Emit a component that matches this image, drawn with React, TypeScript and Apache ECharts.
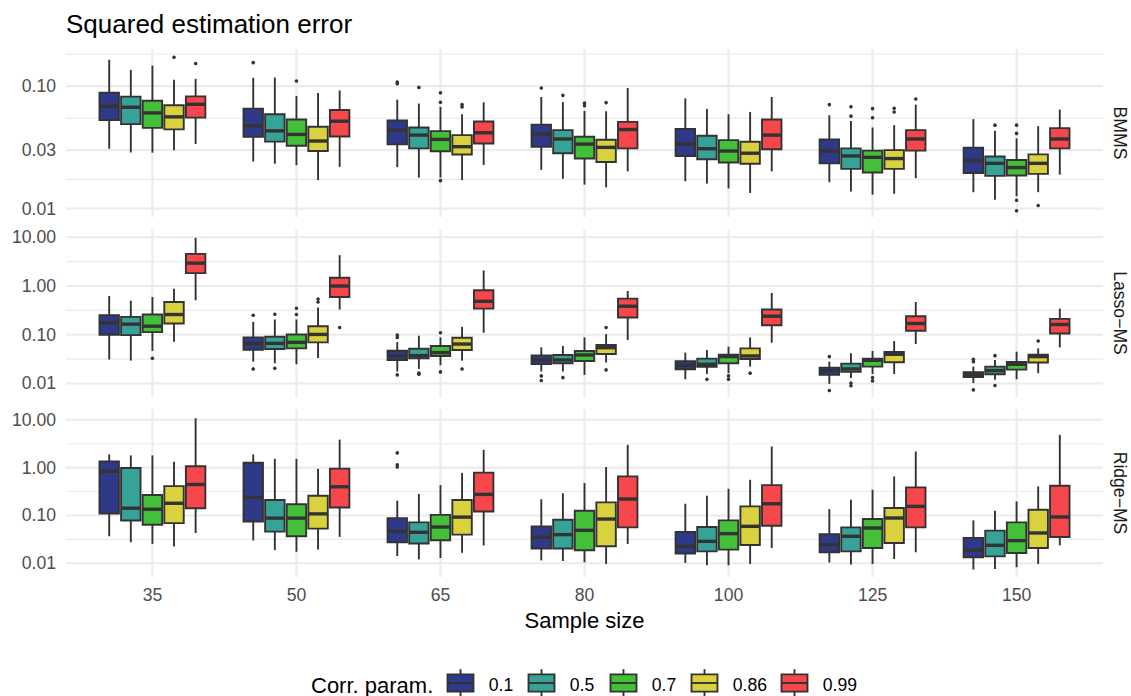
import React, { useEffect, useRef } from "react";
import * as echarts from "echarts";

const FONT = '"Liberation Sans", Arial, Helvetica, sans-serif';

const sampleSizes = ["35", "50", "65", "80", "100", "125", "150"];
const corrParams = ["0.1", "0.5", "0.7", "0.86", "0.99"];
const corrColors = ["#2E3A87", "#37A396", "#44BF38", "#D9D23E", "#F5474C"];
const facetLabels = ["BMMS", "Lasso\u2212MS", "Ridge\u2212MS"];

// Each row: [lower whisker, Q1, median, Q3, upper whisker] for one sample size
const bmmsCorr01 = [
  [0.0308, 0.0527, 0.0684, 0.0883, 0.164],
  [0.0242, 0.0386, 0.0474, 0.0655, 0.117],
  [0.0218, 0.0334, 0.0437, 0.0523, 0.0775],
  [0.0207, 0.032, 0.0405, 0.0485, 0.0815],
  [0.0167, 0.0269, 0.0336, 0.0446, 0.0794],
  [0.0164, 0.0234, 0.0295, 0.0367, 0.0578],
  [0.0136, 0.0195, 0.0247, 0.0314, 0.0537],
];
const bmmsCorr05 = [
  [0.0287, 0.0489, 0.0672, 0.082, 0.1355],
  [0.0232, 0.0352, 0.0431, 0.0589, 0.1175],
  [0.0179, 0.031, 0.0398, 0.0459, 0.072],
  [0.0175, 0.0283, 0.037, 0.0437, 0.0741],
  [0.016, 0.0253, 0.0308, 0.0393, 0.0651],
  [0.0138, 0.0211, 0.0269, 0.031, 0.0518],
  [0.0118, 0.0185, 0.0234, 0.0266, 0.0431],
];
const bmmsCorr07 = [
  [0.0286, 0.0456, 0.0604, 0.076, 0.147],
  [0.0226, 0.0326, 0.0403, 0.0533, 0.083],
  [0.0179, 0.0294, 0.0367, 0.0429, 0.0676],
  [0.0157, 0.0256, 0.0336, 0.0386, 0.0626],
  [0.0146, 0.0238, 0.0295, 0.0362, 0.0589],
  [0.013, 0.0197, 0.0262, 0.0297, 0.0459],
  [0.0126, 0.0186, 0.0216, 0.0249, 0.0374],
];
const bmmsCorr086 = [
  [0.03, 0.0443, 0.0561, 0.0697, 0.1125],
  [0.0171, 0.0295, 0.0356, 0.0466, 0.0878],
  [0.0171, 0.0276, 0.032, 0.0398, 0.0589],
  [0.0149, 0.024, 0.0316, 0.0365, 0.0623],
  [0.0134, 0.0232, 0.0283, 0.0351, 0.0615],
  [0.0132, 0.0211, 0.0256, 0.03, 0.048],
  [0.0136, 0.0192, 0.0234, 0.0277, 0.0471],
];
const bmmsCorr099 = [
  [0.0337, 0.0553, 0.071, 0.0824, 0.1146],
  [0.0219, 0.0388, 0.0517, 0.0638, 0.0922],
  [0.0227, 0.034, 0.0416, 0.0514, 0.0738],
  [0.0201, 0.031, 0.0442, 0.051, 0.0964],
  [0.0201, 0.0305, 0.0398, 0.0533, 0.0815],
  [0.0177, 0.0297, 0.037, 0.0437, 0.0706],
  [0.0189, 0.031, 0.037, 0.0454, 0.0643],
];
// [sample size index, corr. param index, value]
const bmmsOutliers = [
  [0, 3, 0.172], [0, 4, 0.153],
  [1, 0, 0.1556], [1, 2, 0.11],
  [2, 0, 0.108], [2, 0, 0.1045], [2, 1, 0.0976], [2, 2, 0.0883], [2, 2, 0.0738], [2, 2, 0.0169], [2, 3, 0.0706], [2, 3, 0.0676],
  [3, 0, 0.0964], [3, 1, 0.084], [3, 2, 0.0728], [3, 2, 0.0693], [3, 3, 0.0733],
  [5, 0, 0.0706], [5, 1, 0.0679], [5, 1, 0.0568], [5, 2, 0.0655], [5, 2, 0.0551], [5, 3, 0.066], [5, 3, 0.0615], [5, 4, 0.0785],
  [6, 1, 0.048], [6, 2, 0.048], [6, 2, 0.0411], [6, 2, 0.0117], [6, 2, 0.0096], [6, 3, 0.0106],
];

const lassoCorr01 = [
  [0.031, 0.1, 0.176, 0.252, 0.625],
  [0.0281, 0.0494, 0.0666, 0.0883, 0.184],
  [0.0176, 0.0304, 0.0367, 0.047, 0.0708],
  [0.0176, 0.0252, 0.0304, 0.0378, 0.055],
  [0.0122, 0.0196, 0.0235, 0.0286, 0.043],
  [0.0098, 0.015, 0.0182, 0.0212, 0.028],
  [0.0102, 0.0135, 0.015, 0.017, 0.0222],
];
const lassoCorr05 = [
  [0.0295, 0.0985, 0.165, 0.233, 0.502],
  [0.026, 0.0509, 0.0666, 0.091, 0.206],
  [0.0199, 0.0329, 0.0373, 0.0518, 0.0955],
  [0.0176, 0.026, 0.0304, 0.0385, 0.0588],
  [0.0157, 0.0219, 0.0248, 0.0324, 0.0487],
  [0.0129, 0.0173, 0.0199, 0.0256, 0.0416],
  [0.0119, 0.0155, 0.0184, 0.0222, 0.0304],
];
const lassoCorr07 = [
  [0.0465, 0.113, 0.15, 0.26, 0.597],
  [0.0248, 0.0526, 0.0698, 0.1016, 0.206],
  [0.0237, 0.0367, 0.043, 0.0588, 0.0883],
  [0.015, 0.029, 0.0385, 0.0465, 0.0883],
  [0.0163, 0.026, 0.0356, 0.039, 0.0569],
  [0.0157, 0.0222, 0.0299, 0.0324, 0.0465],
  [0.0122, 0.0193, 0.0248, 0.0277, 0.045],
];
const lassoCorr086 = [
  [0.072, 0.17, 0.26, 0.471, 0.883],
  [0.0334, 0.0698, 0.1016, 0.15, 0.361],
  [0.0295, 0.0487, 0.0645, 0.0869, 0.1455],
  [0.0269, 0.0403, 0.0543, 0.0615, 0.103],
  [0.0222, 0.0318, 0.0367, 0.0526, 0.0883],
  [0.0157, 0.0272, 0.0397, 0.0443, 0.0743],
  [0.0163, 0.0269, 0.0356, 0.039, 0.0526],
];
const lassoCorr099 = [
  [0.509, 1.84, 2.95, 4.57, 9.7],
  [0.329, 0.597, 1.0, 1.48, 4.3],
  [0.11, 0.344, 0.486, 0.817, 2.09],
  [0.0778, 0.226, 0.385, 0.551, 0.79],
  [0.0687, 0.157, 0.24, 0.329, 0.72],
  [0.0645, 0.121, 0.17, 0.24, 0.471],
  [0.055, 0.1065, 0.1625, 0.212, 0.344],
];
const lassoOutliers = [
  [0, 2, 0.0329],
  [1, 0, 0.252], [1, 0, 0.0199], [1, 1, 0.264], [1, 1, 0.0206], [1, 2, 0.35], [1, 2, 0.26], [1, 3, 0.543], [1, 3, 0.471], [1, 4, 0.141],
  [2, 0, 0.0985], [2, 0, 0.0883], [2, 0, 0.015], [2, 1, 0.0163], [2, 1, 0.0155], [2, 2, 0.11], [2, 2, 0.0173], [2, 3, 0.0199],
  [3, 0, 0.0143], [3, 0, 0.0115], [3, 1, 0.0132], [3, 3, 0.141], [3, 3, 0.019],
  [4, 1, 0.0122], [4, 2, 0.0143], [4, 2, 0.0122], [4, 3, 0.0163],
  [5, 0, 0.0356], [5, 0, 0.0072], [5, 1, 0.0102], [5, 1, 0.009], [5, 2, 0.0132], [5, 2, 0.0113],
  [6, 0, 0.0314], [6, 0, 0.0281], [6, 0, 0.0074], [6, 1, 0.0373], [6, 1, 0.0091], [6, 3, 0.0743],
];

const ridgeCorr01 = [
  [0.0368, 0.11, 0.84, 1.35, 1.89],
  [0.03, 0.075, 0.239, 1.27, 1.89],
  [0.0142, 0.0276, 0.0467, 0.0881, 0.204],
  [0.0115, 0.0204, 0.0351, 0.0592, 0.218],
  [0.0102, 0.016, 0.0227, 0.0452, 0.176],
  [0.0104, 0.017, 0.0246, 0.0404, 0.136],
  [0.0074, 0.0134, 0.0187, 0.0339, 0.0791],
];
const ridgeCorr05 = [
  [0.0276, 0.0788, 0.142, 0.984, 1.8],
  [0.0189, 0.0459, 0.0881, 0.211, 1.53],
  [0.0121, 0.0259, 0.0445, 0.0716, 0.281],
  [0.0112, 0.0204, 0.0398, 0.0813, 0.29],
  [0.0091, 0.0178, 0.0288, 0.0574, 0.259],
  [0.0094, 0.0178, 0.0367, 0.0565, 0.214],
  [0.0076, 0.014, 0.0238, 0.0482, 0.126],
];
const ridgeCorr07 = [
  [0.0255, 0.0641, 0.135, 0.268, 1.8],
  [0.0174, 0.0368, 0.0881, 0.172, 1.53],
  [0.0129, 0.0304, 0.0574, 0.103, 0.43],
  [0.0105, 0.0187, 0.049, 0.126, 0.476],
  [0.0091, 0.0193, 0.0417, 0.0791, 0.362],
  [0.0097, 0.0209, 0.0547, 0.0843, 0.346],
  [0.0083, 0.0164, 0.0298, 0.0719, 0.197],
];
const ridgeCorr086 = [
  [0.0225, 0.0693, 0.18, 0.411, 1.33],
  [0.0195, 0.053, 0.108, 0.259, 0.953],
  [0.0166, 0.0398, 0.0925, 0.211, 0.776],
  [0.0097, 0.0227, 0.0843, 0.188, 1.03],
  [0.0097, 0.0242, 0.0593, 0.155, 0.558],
  [0.0123, 0.0266, 0.0885, 0.143, 0.656],
  [0.0097, 0.0209, 0.0431, 0.132, 0.406],
];
const ridgeCorr099 = [
  [0.043, 0.142, 0.445, 1.07, 10.8],
  [0.0356, 0.147, 0.398, 0.953, 3.86],
  [0.0236, 0.121, 0.276, 0.788, 2.36],
  [0.0254, 0.0565, 0.221, 0.656, 3.0],
  [0.0209, 0.0612, 0.176, 0.432, 2.77],
  [0.017, 0.0565, 0.155, 0.386, 2.18],
  [0.0238, 0.0355, 0.093, 0.419, 4.86],
];
const ridgeOutliers = [[2, 0, 2.04], [2, 0, 1.15], [2, 0, 1.03]];

// y-axis tick labels per facet
const bmmsBreaks = [0.01, 0.03, 0.1];
const wideBreaks = [0.01, 0.1, 1, 10];

const panels = [
  { label: facetLabels[0], stats: [bmmsCorr01, bmmsCorr05, bmmsCorr07, bmmsCorr086, bmmsCorr099], outliers: bmmsOutliers, breaks: bmmsBreaks, logLimits: [-2.069, -0.697] },
  { label: facetLabels[1], stats: [lassoCorr01, lassoCorr05, lassoCorr07, lassoCorr086, lassoCorr099], outliers: lassoOutliers, breaks: wideBreaks, logLimits: [-2.277, 1.17] },
  { label: facetLabels[2], stats: [ridgeCorr01, ridgeCorr05, ridgeCorr07, ridgeCorr086, ridgeCorr099], outliers: ridgeOutliers, breaks: wideBreaks, logLimits: [-2.286, 1.226] },
];

// layout
const PANEL_LEFT = 66;
const PANEL_RIGHT = 28;
const PANEL_TOPS = [49, 229, 409];
const PANEL_H = 168;
const X_MIN = -0.6;
const X_MAX = 6.6;
const DODGE = 0.15;
const BOX_W = DODGE * 0.9;
const OUTLINE = "#333333";
const GRID_COLOR = "#EBEBEB";

function minorBreaks(breaks: number[], lo: number, hi: number) {
  const logs = breaks.map(Math.log10);
  const out: number[] = [];
  for (let i = 0; i < logs.length - 1; i++) out.push((logs[i] + logs[i + 1]) / 2);
  const n = logs.length;
  const below = logs[0] - (logs[1] - logs[0]) / 2;
  const above = logs[n - 1] + (logs[n - 1] - logs[n - 2]) / 2;
  if (below > lo) out.push(below);
  if (above < hi) out.push(above);
  return out;
}

function boxRenderer(offset: number, color: string) {
  return (_params: any, api: any) => {
    const x = api.value(0) + offset;
    const lo = api.coord([x, api.value(1)]);
    const q1 = api.coord([x, api.value(2)]);
    const md = api.coord([x, api.value(3)]);
    const q3 = api.coord([x, api.value(4)]);
    const hi = api.coord([x, api.value(5)]);
    const xl = api.coord([x - BOX_W / 2, api.value(3)])[0];
    const xr = api.coord([x + BOX_W / 2, api.value(3)])[0];
    const cx = md[0];
    const line = { stroke: OUTLINE, lineWidth: 1.9 };
    return {
      type: "group",
      children: [
        { type: "line", shape: { x1: cx, y1: hi[1], x2: cx, y2: q3[1] }, style: line },
        { type: "line", shape: { x1: cx, y1: q1[1], x2: cx, y2: lo[1] }, style: line },
        {
          type: "rect",
          shape: { x: xl, y: q3[1], width: xr - xl, height: q1[1] - q3[1] },
          style: { fill: color, stroke: OUTLINE, lineWidth: 1.9 },
        },
        { type: "line", shape: { x1: xl, y1: md[1], x2: xr, y2: md[1] }, style: { stroke: OUTLINE, lineWidth: 3.4 } },
      ],
    };
  };
}

function gridRenderer(yMin: number, yMax: number) {
  return (_params: any, api: any) => {
    const orient = api.value(0);
    const v = api.value(1);
    const w = api.value(2);
    const p1 = orient === 0 ? api.coord([X_MIN, v]) : api.coord([v, yMin]);
    const p2 = orient === 0 ? api.coord([X_MAX, v]) : api.coord([v, yMax]);
    return {
      type: "line",
      shape: { x1: p1[0], y1: p1[1], x2: p2[0], y2: p2[1] },
      style: { stroke: GRID_COLOR, lineWidth: w },
    };
  };
}

function textStyle(text: string, size: number, fill: string, align: string, vAlign = "middle") {
  return {
    text,
    x: 0,
    y: 0,
    fontSize: size,
    fontFamily: FONT,
    fill,
    align,
    verticalAlign: vAlign,
    textAlign: align,
    textVerticalAlign: vAlign,
  };
}

function buildOption() {
  const categoryIdx = sampleSizes.map((_, i) => i);

  const grids = PANEL_TOPS.map((top) => ({
    left: PANEL_LEFT,
    right: PANEL_RIGHT,
    top,
    height: PANEL_H,
    containLabel: false,
    outerBoundsMode: "none",
  }));

  const xAxes = panels.map((_, i) => ({
    type: "value",
    gridIndex: i,
    min: X_MIN,
    max: X_MAX,
    axisLine: { show: false },
    axisTick: { show: false },
    splitLine: { show: false },
    axisLabel:
      i === panels.length - 1
        ? {
            show: true,
            customValues: categoryIdx,
            formatter: (v: number) => sampleSizes[Math.round(v)] ?? "",
            color: "#4D4D4D",
            fontSize: 17.6,
            fontFamily: FONT,
            margin: 9,
          }
        : { show: false },
    name: i === panels.length - 1 ? "Sample size" : "",
    nameLocation: "middle",
    nameGap: 32,
    nameTextStyle: { fontSize: 22, color: "#000000", fontFamily: FONT },
  }));

  const yAxes = panels.map((p, i) => ({
    type: "value",
    gridIndex: i,
    min: p.logLimits[0],
    max: p.logLimits[1],
    axisLine: { show: false },
    axisTick: { show: false },
    splitLine: { show: false },
    axisLabel: {
      customValues: p.breaks.map(Math.log10),
      formatter: (v: number) => Math.pow(10, v).toFixed(2),
      color: "#4D4D4D",
      fontSize: 17.6,
      fontFamily: FONT,
      margin: 10,
    },
  }));

  const series: any[] = [];
  panels.forEach((p, i) => {
    const [lo, hi] = p.logLimits;
    const gridData: number[][] = [];
    minorBreaks(p.breaks, lo, hi).forEach((v) => gridData.push([0, v, 1.1]));
    p.breaks.forEach((b) => gridData.push([0, Math.log10(b), 2.1]));
    categoryIdx.forEach((c) => gridData.push([1, c, 2.1]));
    series.push({
      type: "custom",
      coordinateSystem: "cartesian2d",
      xAxisIndex: i,
      yAxisIndex: i,
      z: 1,
      silent: true,
      data: gridData,
      renderItem: gridRenderer(lo, hi),
    });

    p.stats.forEach((rows, k) => {
      series.push({
        type: "custom",
        name: corrParams[k],
        coordinateSystem: "cartesian2d",
        xAxisIndex: i,
        yAxisIndex: i,
        z: 2,
        silent: true,
        data: rows.map((r, j) => [j, ...r.map(Math.log10)]),
        renderItem: boxRenderer((k - 2) * DODGE, corrColors[k]),
      });
    });

    series.push({
      type: "scatter",
      xAxisIndex: i,
      yAxisIndex: i,
      z: 3,
      silent: true,
      symbol: "circle",
      symbolSize: 3.6,
      itemStyle: { color: OUTLINE, opacity: 1 },
      data: p.outliers.map(([j, k, v]) => [j + (k - 2) * DODGE, Math.log10(v)]),
    });
  });

  // facet strips on the right
  const strips = panels.map((p, i) => ({
    type: "text",
    x: 1120,
    y: PANEL_TOPS[i] + PANEL_H / 2,
    rotation: -Math.PI / 2,
    style: textStyle(p.label, 17.6, "#1A1A1A", "center"),
  }));

  // legend: title, boxplot keys and labels
  const KEY = 34.6;
  const LEGEND_Y = 683;
  const keyCenters = [460.5, 541.5, 623.5, 704.5, 794.5];
  const legendItems: any[] = [
    { type: "text", x: 311, y: LEGEND_Y + 2, style: textStyle("Corr. param.", 22, "#000000", "left") },
  ];
  corrParams.forEach((label, k) => {
    const cx = keyCenters[k];
    const line = { stroke: OUTLINE, lineWidth: 1.9 };
    legendItems.push(
      { type: "line", shape: { x1: cx, y1: LEGEND_Y - 0.4 * KEY, x2: cx, y2: LEGEND_Y - 0.25 * KEY }, style: line },
      { type: "line", shape: { x1: cx, y1: LEGEND_Y + 0.25 * KEY, x2: cx, y2: LEGEND_Y + 0.4 * KEY }, style: line },
      {
        type: "rect",
        shape: { x: cx - 0.375 * KEY, y: LEGEND_Y - 0.25 * KEY, width: 0.75 * KEY, height: 0.5 * KEY },
        style: { fill: corrColors[k], stroke: OUTLINE, lineWidth: 1.9 },
      },
      { type: "line", shape: { x1: cx - 0.375 * KEY, y1: LEGEND_Y, x2: cx + 0.375 * KEY, y2: LEGEND_Y }, style: { stroke: OUTLINE, lineWidth: 1.9 } },
      { type: "text", x: cx + KEY / 2 + 11, y: LEGEND_Y + 2, style: textStyle(label, 17.6, "#000000", "left") }
    );
  });

  return {
    animation: false,
    backgroundColor: "#FFFFFF",
    title: {
      text: "Squared estimation error",
      left: PANEL_LEFT,
      top: 11,
      padding: 0,
      textStyle: { fontSize: 26, fontWeight: "normal", color: "#000000", fontFamily: FONT },
    },
    grid: grids,
    xAxis: xAxes,
    yAxis: yAxes,
    series,
    graphic: [...strips, ...legendItems],
  };
}

export default function App() {
  const ref = useRef<HTMLDivElement>(null);
  useEffect(() => {
    document.body.style.margin = "0";
    const chart = echarts.init(ref.current as HTMLDivElement, null, { renderer: "svg" });
    chart.setOption(buildOption() as any);
    return () => chart.dispose();
  }, []);
  return <div ref={ref} style={{ width: 1131, height: 696, background: "#FFFFFF" }} />;
}
